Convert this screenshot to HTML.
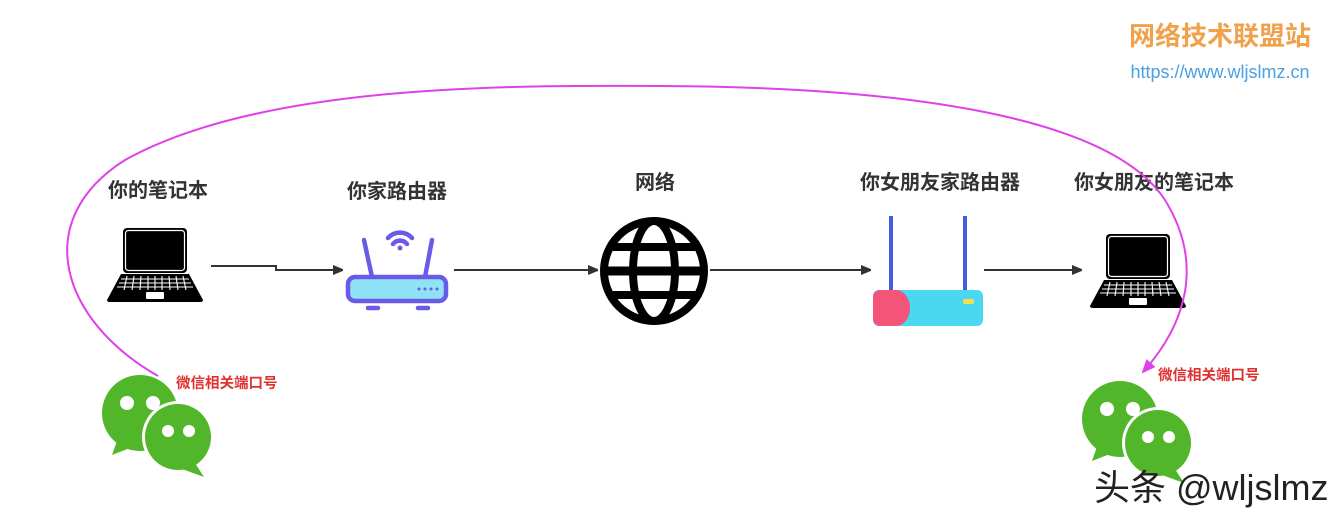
<!DOCTYPE html>
<html><head><meta charset="utf-8"><style>
body{margin:0;width:1344px;height:522px;background:#fff;overflow:hidden;font-family:"Liberation Sans","Noto Sans CJK SC",sans-serif}
</style></head><body>
<svg width="1344" height="522" xmlns="http://www.w3.org/2000/svg" font-family="Liberation Sans, Noto Sans CJK SC, sans-serif">
<defs>
<marker id="ar" markerWidth="10" markerHeight="10" refX="9" refY="5" orient="auto" markerUnits="userSpaceOnUse"><path d="M0,0 L12,5 L0,10 z" fill="#333"/></marker>
<marker id="am" markerWidth="14" markerHeight="14" refX="12" refY="6" orient="auto" markerUnits="userSpaceOnUse"><path d="M0,0 L14,6 L0,12 z" fill="#e040e8"/></marker>
<g id="laptop">
<rect x="16" y="0" width="64" height="45" rx="4" fill="#000"/>
<rect x="18.5" y="2.5" width="59" height="40" rx="3" fill="none" stroke="#fff" stroke-width="1.2"/>
<path d="M14,46 L82,46 L96,72 Q96,74 93,74 L3,74 Q0,74 0,72 Z" fill="#000"/>
<g stroke="#fff" stroke-width="1.1">
<line x1="14" y1="51" x2="82" y2="51"/><line x1="12" y1="55" x2="84" y2="55"/><line x1="10" y1="59" x2="86" y2="59"/>
<path d="M20,48 l-3,14 M27,48 l-2,14 M34,48 l-1,14 M41,48 l0,14 M48,48 l0,14 M55,48 l0,14 M62,48 l1,14 M69,48 l2,14 M76,48 l3,14"/>
</g>
<rect x="39" y="64" width="18" height="7" rx="1" fill="#fff"/>
</g>
<g id="wx">
<circle cx="0" cy="0" r="38" fill="#52b62a"/>
<path d="M-22,25 L-28,42 L-5,33 Z" fill="#52b62a"/>
<circle cx="-13" cy="-10" r="7" fill="#fff"/><circle cx="13" cy="-10" r="7" fill="#fff"/>
<circle cx="38" cy="24" r="36" fill="#fff"/>
<circle cx="38" cy="24" r="33" fill="#52b62a"/>
<path d="M55,50 L64,64 L42,56 Z" fill="#52b62a"/>
<circle cx="28" cy="18" r="6" fill="#fff"/><circle cx="49" cy="18" r="6" fill="#fff"/>
</g>
</defs>

<text x="1220" y="45" font-size="26" font-weight="bold" fill="#f0a14a" text-anchor="middle">网络技术联盟站</text>
<text x="1220" y="78" font-size="18" fill="#4aa0e0" text-anchor="middle">https://www.wljslmz.cn</text>

<g font-size="20" font-weight="bold" fill="#333" text-anchor="middle">
<text x="158" y="197">你的笔记本</text>
<text x="397" y="198">你家路由器</text>
<text x="655" y="189">网络</text>
<text x="940" y="189">你女朋友家路由器</text>
<text x="1154" y="189">你女朋友的笔记本</text>
</g>

<use href="#laptop" x="107" y="228"/>
<use href="#laptop" x="1090" y="234"/>

<g stroke="#6a5ae8" stroke-width="4.5" stroke-linecap="round" fill="none">
<line x1="364" y1="240" x2="372" y2="277"/><line x1="432" y1="240" x2="425" y2="277"/>
<path d="M388,238 A16,16 0 0 1 412,238"/><path d="M393,244 A9,9 0 0 1 407,244"/>
<rect x="348" y="277" width="98" height="24" rx="7" fill="#8ee4f6"/>
<line x1="368" y1="308" x2="378" y2="308"/><line x1="418" y1="308" x2="428" y2="308"/>
</g>
<circle cx="400" cy="248" r="2.5" fill="#6a5ae8"/>
<g fill="#6a5ae8"><circle cx="419" cy="289" r="1.5"/><circle cx="425" cy="289" r="1.5"/><circle cx="431" cy="289" r="1.5"/><circle cx="437" cy="289" r="1.5"/></g>

<g stroke="#000" stroke-width="8" fill="none">
<circle cx="654" cy="271" r="50"/>
<ellipse cx="654" cy="271" rx="21" ry="50"/>
<line x1="604" y1="271" x2="704" y2="271" stroke-width="9"/>
<line x1="613" y1="247" x2="695" y2="247"/>
<line x1="613" y1="295" x2="695" y2="295"/>
</g>

<rect x="889" y="216" width="4" height="76" fill="#3f5fe0"/>
<rect x="963" y="216" width="4" height="76" fill="#3f5fe0"/>
<rect x="873" y="290" width="110" height="36" rx="6" fill="#4ad8f0"/>
<path d="M880,290 L896,290 A14,18 0 0 1 896,326 L880,326 A7,7 0 0 1 873,319 L873,297 A7,7 0 0 1 880,290Z" fill="#f45478"/>
<rect x="963" y="299" width="11" height="5" rx="2" fill="#f2e04a"/>

<g stroke="#333" stroke-width="2" fill="none" marker-end="url(#ar)">
<path d="M211,266 L276,266 L276,270 L342,270"/>
<line x1="454" y1="270" x2="597" y2="270"/>
<line x1="710" y1="270" x2="870" y2="270"/>
<line x1="984" y1="270" x2="1081" y2="270"/>
</g>

<path d="M158,376 C 60,320 30,220 125,160 C 260,85 500,85 660,86 C 900,87 1110,115 1165,200 C 1205,265 1185,325 1143,372" stroke="#e040e8" stroke-width="2" fill="none" marker-end="url(#am)"/>

<g font-size="14.5" fill="#e03030" font-weight="bold">
<text x="176" y="388">微信相关端口号</text>
<text x="1158" y="380">微信相关端口号</text>
</g>

<use href="#wx" x="140" y="413"/>
<use href="#wx" x="1120" y="419"/>

<text x="1094" y="500" font-size="36" fill="#222">头条 @wljslmz</text>
</svg>
</body></html>
